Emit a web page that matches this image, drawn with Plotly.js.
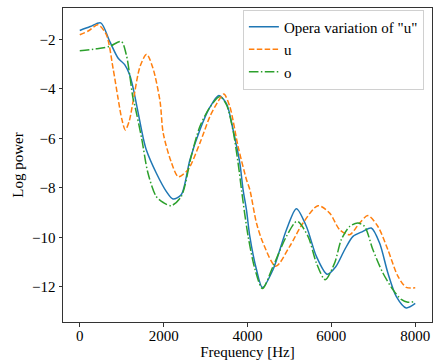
<!DOCTYPE html>
<html>
<head>
<meta charset="utf-8">
<script src="https://cdn.plot.ly/plotly-3.0.1.min.js"></script>
<style>html,body{margin:0;padding:0;background:#fff}#chart{width:434px;height:360px}</style>
</head>
<body>
<div id="chart"></div>
<script>
// Opera variation of "u"
const operaFreq = [0, 250, 500, 714, 912, 1071, 1190, 1277, 1388, 1515, 1586, 1824, 2062, 2222, 2419, 2626, 2864, 3100, 3317, 3500, 3657, 3817, 3895, 3976, 4055, 4214, 4357, 4610, 4929, 5167, 5405, 5643, 5900, 6100, 6317, 6516, 6753, 6952, 7150, 7348, 7547, 7786, 8000];
const operaPower = [-1.64, -1.48, -1.33, -2.08, -2.75, -3.02, -3.43, -4.0, -4.93, -6.0, -6.46, -7.40, -8.14, -8.45, -8.28, -6.87, -5.66, -4.75, -4.27, -4.6, -5.66, -7.0, -8.08, -8.9, -9.96, -11.3, -12.03, -11.30, -9.69, -8.84, -9.56, -10.77, -11.49, -11.2, -10.5, -9.96, -9.76, -9.62, -10.23, -11.44, -12.38, -12.85, -12.67];

// u
const uFreq = [0, 200, 436, 634, 793, 912, 1000, 1087, 1180, 1277, 1436, 1595, 1745, 1914, 1990, 2180, 2350, 2579, 2864, 3102, 3300, 3436, 3579, 3776, 3976, 4055, 4214, 4372, 4674, 5007, 5324, 5681, 5960, 6198, 6436, 6674, 6872, 7110, 7348, 7586, 7786, 8000];
const uPower = [-1.81, -1.66, -1.41, -1.81, -3.16, -4.37, -5.2, -5.66, -5.3, -4.45, -3.1, -2.6, -3.16, -4.5, -5.79, -6.95, -7.55, -7.27, -6.19, -5.12, -4.5, -4.21, -4.72, -6.33, -7.67, -8.07, -9.42, -10.23, -11.17, -10.36, -9.42, -8.72, -9.02, -9.69, -9.89, -9.42, -9.12, -9.56, -10.5, -11.57, -12.02, -12.04];

// o
const oFreq = [0, 396, 714, 991, 1110, 1190, 1269, 1310, 1476, 1626, 1824, 2000, 2181, 2419, 2657, 2864, 3100, 3341, 3500, 3657, 3800, 3857, 4015, 4180, 4357, 4610, 4929, 5181, 5443, 5643, 5852, 6079, 6238, 6436, 6634, 6793, 6991, 7229, 7467, 7667, 7824, 8000];
const oPower = [-2.46, -2.38, -2.28, -2.08, -2.62, -3.43, -4.37, -4.65, -6.0, -7.40, -8.35, -8.6, -8.72, -8.35, -6.73, -5.52, -4.75, -4.31, -4.65, -5.7, -7.3, -8.08, -9.96, -11.3, -12.07, -11.17, -9.96, -9.35, -9.96, -11.03, -11.71, -11.03, -10.09, -9.56, -9.42, -9.56, -10.5, -11.44, -12.11, -12.51, -12.62, -12.58];

const xTicks = [0, 2000, 4000, 6000, 8000];
const yTicks = [-2, -4, -6, -8, -10, -12];

const FONT = 'Liberation Serif';
const FS = 15;

const traces = [
  {x: operaFreq, y: operaPower, name: 'Opera variation of "u"', mode: 'lines',
   line: {color: '#1f77b4', width: 1.5, shape: 'spline', smoothing: 0.8}},
  {x: uFreq, y: uPower, name: 'u', mode: 'lines',
   line: {color: '#ff7f0e', width: 1.5, shape: 'spline', smoothing: 0.8, dash: '5.5px,2.4px'}},
  {x: oFreq, y: oPower, name: 'o', mode: 'lines',
   line: {color: '#2ca02c', width: 1.5, shape: 'spline', smoothing: 0.8, dash: '9.6px,2.4px,1.5px,2.4px'}}
];

const layout = {
  width: 434, height: 360,
  margin: {l: 63, r: 2, t: 8, b: 38},
  paper_bgcolor: '#fff', plot_bgcolor: '#fff',
  font: {family: FONT, size: FS, color: '#000'},
  xaxis: {
    showgrid: false, zeroline: false, showline: true, mirror: true,
    linecolor: '#333', linewidth: 1, ticks: 'outside', ticklen: 3.5, tickwidth: 1,
    tickcolor: '#333', automargin: false, ticklabelstandoff: -4,
    tickfont: {family: FONT, size: FS, color: '#000'},
    range: [-400, 8400], tickvals: xTicks, ticktext: xTicks.map(String),
    title: {text: 'Frequency [Hz]', font: {family: FONT, size: FS, color: '#000'}}
  },
  yaxis: {
    showgrid: false, zeroline: false, showline: true, mirror: true,
    linecolor: '#333', linewidth: 1, ticks: 'outside', ticklen: 3.5, tickwidth: 1,
    tickcolor: '#333', automargin: false,
    tickfont: {family: FONT, size: FS, color: '#000'},
    range: [-13.42, -0.73], tickvals: yTicks, ticktext: yTicks.map(v => '\u2212' + Math.abs(v)),
    title: {text: 'Log power', font: {family: FONT, size: FS, color: '#000'}}
  },
  showlegend: true,
  legend: {
    x: 0.978, y: 0.995, xanchor: 'right', yanchor: 'top',
    bgcolor: 'rgba(255,255,255,0.8)', bordercolor: '#d0d0d0', borderwidth: 1,
    font: {family: FONT, size: FS, color: '#000'}, tracegroupgap: 0
  }
};

Plotly.newPlot('chart', traces, layout, {staticPlot: true, displayModeBar: false});
</script>
</body>
</html>
